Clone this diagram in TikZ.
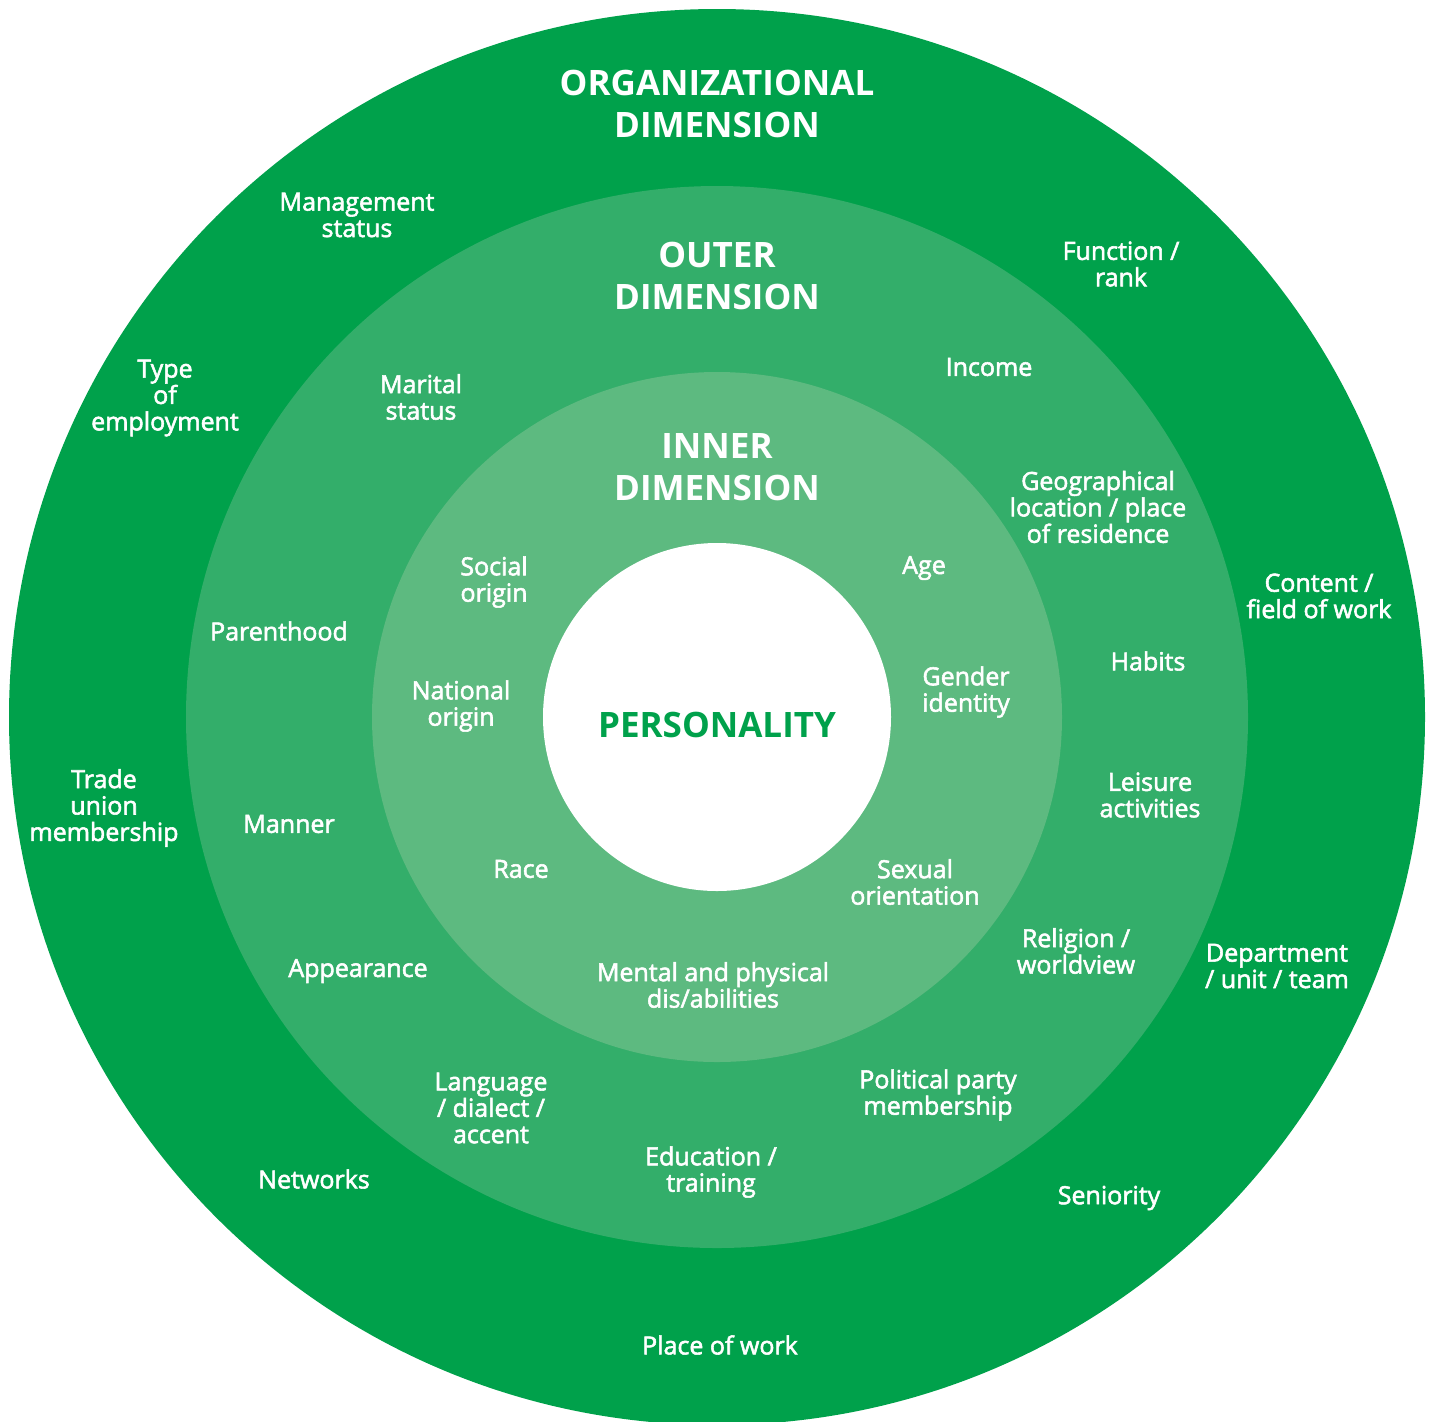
\documentclass[tikz,border=0pt]{standalone}
\usepackage{fontspec}
\setmainfont{Open Sans}
\newfontfamily\lblfont{Open Sans}[FakeBold=2.2]
\newfontfamily\headfont{Open Sans}[BoldFont={Open Sans Bold}]
\definecolor{ringorg}{HTML}{00A14B}
\definecolor{ringout}{HTML}{33AE6A}
\definecolor{ringin}{HTML}{5DBA80}
\begin{document}
\begin{tikzpicture}[x=0.5pt,y=-0.5pt,
  lbl/.style={text=white,align=center,inner sep=0pt,
    font=\lblfont\fontsize{12.5}{13.2}\selectfont},
  head/.style={text=white,align=center,inner sep=0pt,
    font=\headfont\bfseries\fontsize{17.5}{21}\selectfont}]
\useasboundingbox (0,0) rectangle (1435,1421);
\clip (0,0) rectangle (1435,1421);
% concentric dimensions
\fill[ringorg] (717,717) circle[radius=708];
\fill[ringout] (717,717) circle[radius=531];
\fill[ringin] (717,717) circle[radius=345];
\fill[white] (717,717) circle[radius=174];
% headings
\node[head] (org) at (717,104) {ORGANIZATIONAL\\DIMENSION};
\node[head] (outer) at (717,276) {OUTER\\DIMENSION};
\node[head] (inner) at (717,467) {INNER\\DIMENSION};
\node[head,text=ringorg] (pers) at (717,725) {PERSONALITY};
% organizational dimension
\node[lbl] (mgmt) at (357,215) {Management\\status};
\node[lbl] (func) at (1121,264) {Function /\\rank};
\node[lbl] (type) at (165,398) {Type\\of\\employment};
\node[lbl] (content) at (1319,596) {Content /\\field of work};
\node[lbl] (trade) at (104,808) {Trade\\union\\membership};
\node[lbl] (dept) at (1277,966) {Department\\/ unit / team};
\node[lbl] (netw) at (314,1179) {Networks};
\node[lbl] (senior) at (1109,1198) {Seniority};
\node[lbl] (place) at (720,1345) {Place of work};
% outer dimension
\node[lbl] (marital) at (421,397) {Marital\\status};
\node[lbl] (income) at (989,367) {Income};
\node[lbl] (geo) at (1098,507) {Geographical\\location / place\\of residence};
\node[lbl] (parent) at (279,631) {Parenthood};
\node[lbl] (habits) at (1148,661) {Habits};
\node[lbl] (leisure) at (1150,795) {Leisure\\activities};
\node[lbl] (manner) at (289,824) {Manner};
\node[lbl] (relig) at (1076,951) {Religion /\\worldview};
\node[lbl] (appear) at (358,971) {Appearance};
\node[lbl] (lang) at (491,1108) {Language\\/ dialect /\\accent};
\node[lbl] (polit) at (938,1095) {Political party\\membership};
\node[lbl] (edu) at (711,1172) {Education /\\training};
% inner dimension
\node[lbl] (social) at (494,582) {Social\\origin};
\node[lbl] (age) at (924,568) {Age};
\node[lbl] (natl) at (461,706) {National\\origin};
\node[lbl] (gender) at (966,692) {Gender\\identity};
\node[lbl] (race) at (521,869) {Race};
\node[lbl] (sexual) at (915,882) {Sexual\\orientation};
\node[lbl] (mental) at (713,985) {Mental and physical\\dis/abilities};
\end{tikzpicture}
\end{document}
